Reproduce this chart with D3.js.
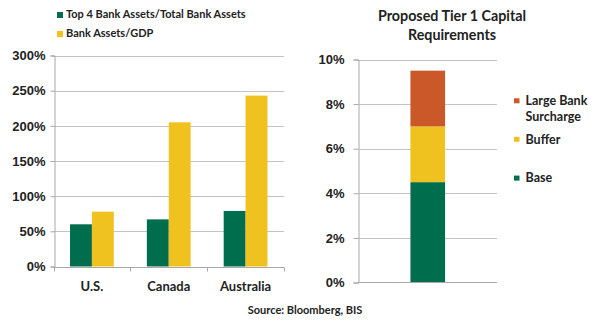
<!DOCTYPE html>
<html>
<head>
<meta charset="utf-8">
<script src="https://cdn.jsdelivr.net/npm/d3@7"></script>
<style>
  html, body { margin: 0; padding: 0; background: #fff; }
  svg { display: block; font-family: Lato, "Open Sans", sans-serif; }
</style>
</head>
<body>
<svg id="chart" width="600" height="321"></svg>
<script>
// ---- Data ----
const countries = ["U.S.", "Canada", "Australia"];
const seriesNames = ["Top 4 Bank Assets/Total Bank Assets", "Bank Assets/GDP"];
const top4Share = [60, 67, 79];
const assetsToGdp = [78, 205, 243];
const leftTicks = [0, 50, 100, 150, 200, 250, 300];

const capitalLayers = ["Base", "Buffer", "Large Bank Surcharge"];
const capitalValues = [4.5, 2.5, 2.5];
const rightTicks = [0, 2, 4, 6, 8, 10];
const sourceText = "Source: Bloomberg, BIS";
const rightTitle = ["Proposed Tier 1 Capital", "Requirements"];

// ---- Styles ----
const GREEN = "#006E4C", YELLOW = "#F0C21F", ORANGE = "#CA5829";
const GRID = "#C4C4C4", AXIS = "#A8A8A8", TEXT = "#222";

const svg = d3.select("#chart");

// ================= LEFT CHART =================
const L = { x0: 53.5, x1: 284, y0: 266.5, y1: 55.5 };
const xL = d3.scaleBand().domain(countries).range([L.x0, L.x1]).paddingInner(0.43).paddingOuter(0.215);
const xSub = d3.scaleBand().domain(seriesNames).range([0, xL.bandwidth()]);
const yL = d3.scaleLinear().domain([0, 300]).range([L.y0, L.y1]);

const gL = svg.append("g");
gL.selectAll("line.grid").data(leftTicks.filter(d => d > 0)).join("line")
  .attr("x1", L.x0).attr("x2", L.x1)
  .attr("y1", d => Math.round(yL(d)) + 0.5).attr("y2", d => Math.round(yL(d)) + 0.5)
  .attr("stroke", GRID).attr("stroke-width", 1);

const leftSeries = [top4Share, assetsToGdp];
const leftColors = [GREEN, YELLOW];
seriesNames.forEach((s, si) => {
  gL.selectAll("rect.s" + si).data(countries).join("rect")
    .attr("x", c => xL(c) + xSub(s))
    .attr("width", xSub.bandwidth())
    .attr("y", (c, i) => yL(leftSeries[si][i]))
    .attr("height", (c, i) => yL(0) - yL(leftSeries[si][i]))
    .attr("fill", leftColors[si]);
});

const yAxisL = d3.axisLeft(yL).tickValues(leftTicks).tickFormat(d => d + "%").tickSize(4).tickPadding(5);
const ga = gL.append("g").attr("transform", `translate(${Math.round(L.x0) + 0.5},0)`).call(yAxisL);
ga.select(".domain").attr("stroke", AXIS);
ga.selectAll(".tick line").attr("stroke", AXIS);
ga.selectAll(".tick text").attr("fill", TEXT).attr("font-size", 13).attr("font-weight", "bold");

const gx = gL.append("g").attr("transform", `translate(0,${Math.round(L.y0) + 0.5})`);
gx.append("line").attr("x1", L.x0).attr("x2", L.x1).attr("stroke", AXIS);
const bounds = countries.map(c => xL(c) - xL.step() * xL.paddingInner() / 2).concat([L.x1]);
gx.selectAll("line.tk").data(bounds).join("line")
  .attr("x1", d => Math.round(d) + 0.5).attr("x2", d => Math.round(d) + 0.5)
  .attr("y1", 0).attr("y2", 4).attr("stroke", AXIS);
gx.selectAll("text").data(countries).join("text")
  .attr("x", c => xL(c) + xL.bandwidth() / 2).attr("y", 23)
  .attr("text-anchor", "middle").attr("font-size", 13).attr("font-weight", "bold").attr("fill", TEXT)
  .text(d => d);

const legL = svg.append("g");
seriesNames.forEach((s, i) => {
  const y = 18 + i * 19;
  legL.append("rect").attr("x", 57).attr("y", y - 6).attr("width", 6).attr("height", 6).attr("fill", leftColors[i]);
  legL.append("text").attr("x", 66).attr("y", y).attr("font-size", 11).attr("font-weight", "bold").attr("fill", TEXT).text(s);
});

// ================= RIGHT CHART =================
const R = { x0: 358.5, x1: 497, y0: 282.5, y1: 59.5 };
const xR = d3.scaleBand().domain(["Tier 1"]).range([R.x0, R.x1]).padding(0.6);
const yR = d3.scaleLinear().domain([0, 10]).range([R.y0, R.y1]);
const gR = svg.append("g");

gR.selectAll("line.grid").data(rightTicks.filter(d => d > 0)).join("line")
  .attr("x1", R.x0).attr("x2", R.x1)
  .attr("y1", d => Math.round(yR(d)) + 0.5).attr("y2", d => Math.round(yR(d)) + 0.5)
  .attr("stroke", GRID);

const stackData = [Object.fromEntries(capitalLayers.map((k, i) => [k, capitalValues[i]]))];
const stacked = d3.stack().keys(capitalLayers)(stackData);
const rightColors = [GREEN, YELLOW, ORANGE];
gR.selectAll("rect.seg").data(stacked).join("rect")
  .attr("x", xR("Tier 1")).attr("width", xR.bandwidth())
  .attr("y", d => yR(d[0][1])).attr("height", d => yR(d[0][0]) - yR(d[0][1]))
  .attr("fill", (d, i) => rightColors[i]);

const yAxisR = d3.axisLeft(yR).tickValues(rightTicks).tickFormat(d => d + "%").tickSize(5).tickPadding(9);
const gra = gR.append("g").attr("transform", `translate(${R.x0},0)`).call(yAxisR);
gra.select(".domain").attr("stroke", AXIS);
gra.selectAll(".tick line").attr("stroke", AXIS);
gra.selectAll(".tick text").attr("fill", TEXT).attr("font-size", 13).attr("font-weight", "bold");
gR.append("line").attr("x1", R.x0).attr("x2", R.x1).attr("y1", R.y0).attr("y2", R.y0).attr("stroke", AXIS);

rightTitle.forEach((t, i) => {
  svg.append("text").attr("x", 452).attr("y", 20.5 + i * 19).attr("text-anchor", "middle")
    .attr("font-size", 14.3).attr("font-weight", "bold").attr("fill", TEXT).text(t);
});

const legendItems = [
  { lines: ["Large Bank", "Surcharge"], color: ORANGE, y: 105 },
  { lines: ["Buffer"], color: YELLOW, y: 143.5 },
  { lines: ["Base"], color: GREEN, y: 182.3 }
];
legendItems.forEach(it => {
  svg.append("rect").attr("x", 514).attr("y", it.y - 6.7).attr("width", 5.5).attr("height", 5).attr("fill", it.color);
  it.lines.forEach((l, j) => {
    svg.append("text").attr("x", 525.5).attr("y", it.y + j * 16).attr("font-size", 12.5).attr("font-weight", "bold")
      .attr("fill", TEXT).text(l);
  });
});

svg.append("text").attr("x", 305).attr("y", 314).attr("text-anchor", "middle")
  .attr("font-size", 11).attr("font-weight", "bold").attr("fill", TEXT).text(sourceText);
</script>
</body>
</html>
